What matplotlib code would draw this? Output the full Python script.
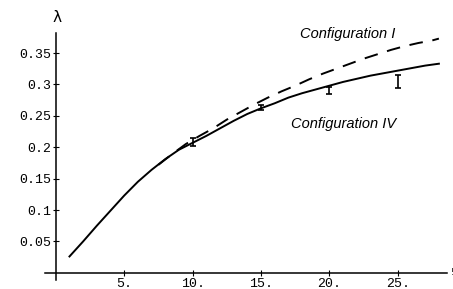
from matplotlib import pyplot as plt
import numpy as np

# Configuration IV (solid)
x_iv = [1, 2, 3, 4, 5, 6, 7, 8, 9, 10, 11, 12, 13, 14, 15, 16, 17, 18, 19, 20,
        21, 22, 23, 24, 25, 26, 27, 28]
lam_iv = [0.026, 0.050, 0.075, 0.099, 0.123, 0.145, 0.164, 0.181, 0.196, 0.207,
          0.218, 0.230, 0.242, 0.253, 0.262, 0.270, 0.279, 0.286, 0.292, 0.298,
          0.304, 0.309, 0.314, 0.318, 0.322, 0.326, 0.330, 0.333]

# Configuration I (dashed)
x_i = [7.5, 8.5, 9.5, 10.5, 11.5, 12.5, 13.5, 14.5, 15.5, 16.5, 17.5, 18.5, 19.5,
       20.5, 21.5, 22.5, 23.5, 24.5, 25.5, 26.5, 27.5, 28]
lam_i = [0.172, 0.189, 0.205, 0.218, 0.230, 0.244, 0.256, 0.268, 0.279, 0.289,
         0.298, 0.308, 0.317, 0.325, 0.333, 0.341, 0.348, 0.355, 0.361, 0.366,
         0.370, 0.373]

# measured points
x_pts = [10, 15, 20, 25]
lam_pts = [0.208, 0.263, 0.290, 0.305]
lam_err = [0.006, 0.004, 0.006, 0.010]

xticks = [5, 10, 15, 20, 25]
xticklabels = ['5.', '10.', '15.', '20.', '25.']
yticks = [0.05, 0.1, 0.15, 0.2, 0.25, 0.3, 0.35]
yticklabels = ['0.05', '0.1', '0.15', '0.2', '0.25', '0.3', '0.35']

fig = plt.figure(figsize=(4.53, 2.89), dpi=100)
ax = fig.add_axes([0.099, 0.030, 0.888, 0.856])

ax.plot(x_iv, lam_iv, color='black', lw=1.4)
ax.plot(x_i, lam_i, color='black', lw=1.4, dashes=(7, 5))
ax.errorbar(x_pts, lam_pts, yerr=lam_err, fmt='none', ecolor='black',
            elinewidth=1.2, capsize=2.2, capthick=1.2)

ax.set_xlim(-0.8, 28.6)
ax.set_ylim(-0.012, 0.382)
for s in ['top', 'right']:
    ax.spines[s].set_visible(False)
ax.spines['left'].set_position(('data', 0))
ax.spines['bottom'].set_position(('data', 0))
ax.spines['left'].set_linewidth(1.1)
ax.spines['bottom'].set_linewidth(1.1)

mono = 'Liberation Mono'
ax.set_xticks(xticks)
ax.set_xticklabels(xticklabels, family=mono, fontsize=9.5)
ax.set_yticks(yticks)
ax.set_yticklabels(yticklabels, family=mono, fontsize=9.5)
ax.tick_params(direction='inout', length=5, width=0.8, pad=1)

ax.text(0.1, 0.395, 'λ', fontsize=11, ha='center', va='bottom', clip_on=False)
ax.text(21.3, 0.381, 'Configuration I', fontsize=10.5, style='italic',
        family='Liberation Sans', ha='center', va='center', clip_on=False)
ax.text(21.0, 0.237, 'Configuration IV', fontsize=10.5, style='italic',
        family='Liberation Sans', ha='center', va='center')
ax.text(29.0, 0.0, '!', fontsize=6, ha='center', va='center', clip_on=False)

fig.savefig('out.png', dpi=100)
